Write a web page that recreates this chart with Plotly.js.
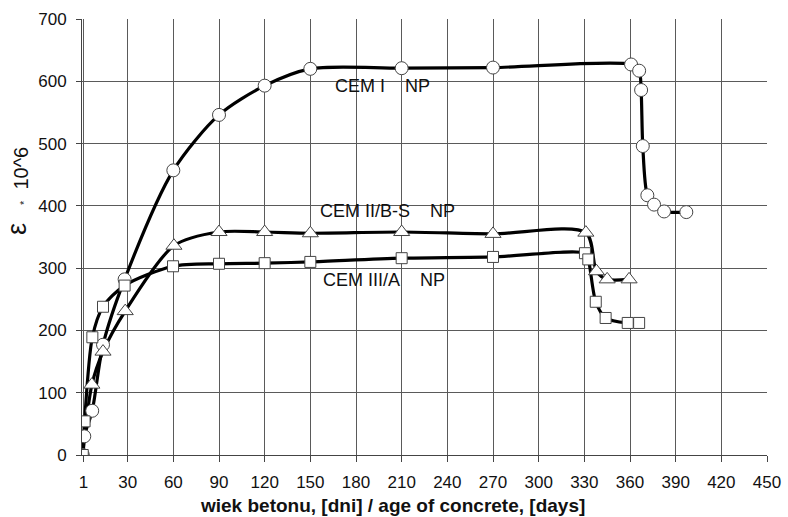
<!DOCTYPE html>
<html>
<head>
<meta charset="utf-8">
<script src="https://cdn.plot.ly/plotly-3.0.1.min.js"></script>
<style>html,body{margin:0;padding:0;background:#fff;}#chart{width:788px;height:517px;}</style>
</head>
<body>
<div id="chart"></div>
<script>
// CEM I NP (circles)
const daysCemI = [0.5, 1.5, 6.7, 13.8, 28, 60, 90, 120, 150, 210, 270, 360.7, 366, 367.3, 368.4, 371.4, 375.8, 382.4, 397];
const epsCemI  = [0, 30, 71, 177, 282, 457, 546, 593, 620, 621, 622, 627, 617, 586, 496, 417, 402, 391, 390];
// CEM II/B-S NP (triangles)
const daysCemII = [0.5, 6.5, 13.8, 28.4, 60.4, 90, 120, 150, 210, 270, 331, 338, 345, 359.4];
const epsCemII  = [0, 113, 166, 231, 336, 358, 358, 356, 358, 355, 357, 295, 282, 282];
// CEM III/A NP (squares)
const daysCemIII = [0.5, 1.7, 6.8, 13.8, 28, 59.8, 90, 120, 150, 210, 270, 330.4, 332.6, 337.5, 344, 358.5, 366];
const epsCemIII  = [0, 54, 189, 238, 272, 303, 307, 308, 310, 316, 318, 324, 314, 246, 220, 212, 212];

const xTicks = [1, 30, 60, 90, 120, 150, 180, 210, 240, 270, 300, 330, 360, 390, 420, 450];
const yTicks = [0, 100, 200, 300, 400, 500, 600, 700];

const gap = "\u00a0\u00a0\u00a0\u00a0";
const seriesLabels = ["CEM I" + gap + "NP", "CEM II/B-S" + gap + "NP", "CEM III/A" + gap + "NP"];

const FONT = "Liberation Sans, Arial, sans-serif";
const series = [
  {x: daysCemI, y: epsCemI, sym: "circle", size: 13},
  {x: daysCemII, y: epsCemII, sym: "triangle-up", size: 14},
  {x: daysCemIII, y: epsCemIII, sym: "square", size: 11}
];

const traces = [];
series.forEach(s => traces.push({
  x: s.x, y: s.y, type: "scatter", mode: "lines",
  line: {color: "#000", width: 3.2, shape: "spline", smoothing: 0.8},
  hoverinfo: "skip", showlegend: false
}));
series.forEach(s => traces.push({
  x: s.x, y: s.y, type: "scatter", mode: "markers",
  marker: {symbol: s.sym, size: s.size, color: "#fff", line: {color: "#444", width: 1}},
  showlegend: false
}));

const layout = {
  width: 788, height: 517,
  margin: {l: 82, r: 21, t: 19, b: 62},
  paper_bgcolor: "#fff", plot_bgcolor: "#fff",
  showlegend: false,
  font: {family: FONT, size: 17, color: "#111"},
  xaxis: {
    range: [0, 450], tickvals: xTicks, ticktext: xTicks.map(String),
    showgrid: true, gridcolor: "#5a5a5a", gridwidth: 1,
    showline: true, linecolor: "#444", linewidth: 1,
    ticks: "outside", ticklen: 6, tickcolor: "#444",
    zeroline: false, ticklabelstandoff: 6,
    tickfont: {family: FONT, size: 17, color: "#111"}
  },
  yaxis: {
    range: [0, 700], tickvals: yTicks,
    showgrid: true, gridcolor: "#5a5a5a", gridwidth: 1,
    showline: true, linecolor: "#444", linewidth: 1,
    ticks: "outside", ticklen: 5, tickcolor: "#444",
    zeroline: false, ticklabelstandoff: 6,
    tickfont: {family: FONT, size: 17, color: "#111"}
  },
  annotations: [
    {xref: "x", yref: "y", x: 165, y: 593, text: seriesLabels[0], showarrow: false,
     font: {family: FONT, size: 18, color: "#111"}, xanchor: "left", yanchor: "middle"},
    {xref: "x", yref: "y", x: 155, y: 392, text: seriesLabels[1], showarrow: false,
     font: {family: FONT, size: 18, color: "#111"}, xanchor: "left", yanchor: "middle"},
    {xref: "x", yref: "y", x: 157, y: 281, text: seriesLabels[2], showarrow: false,
     font: {family: FONT, size: 18, color: "#111"}, xanchor: "left", yanchor: "middle"},
    {xref: "paper", yref: "paper", x: 0.4526, y: -0.115, text: "<b>wiek betonu, [dni] / age of concrete, [days]</b>",
     showarrow: false, font: {family: FONT, size: 19, color: "#111"}, xanchor: "center", yanchor: "middle"},
    {xref: "paper", yref: "paper", x: (17 - 82) / 685, y: (455 - 229) / 436, textangle: -90,
     text: "ε", showarrow: false, font: {family: FONT, size: 27, color: "#111"}, xanchor: "center", yanchor: "middle"},
    {xref: "paper", yref: "paper", x: (21 - 82) / 685, y: (455 - 176) / 436, textangle: -90,
     text: "<span style=\"font-size:11px\">*</span>  10^6", showarrow: false,
     font: {family: FONT, size: 20, color: "#111"}, xanchor: "center", yanchor: "middle"}
  ]
};

Plotly.newPlot("chart", traces, layout, {displayModeBar: false, staticPlot: true});
</script>
</body>
</html>
